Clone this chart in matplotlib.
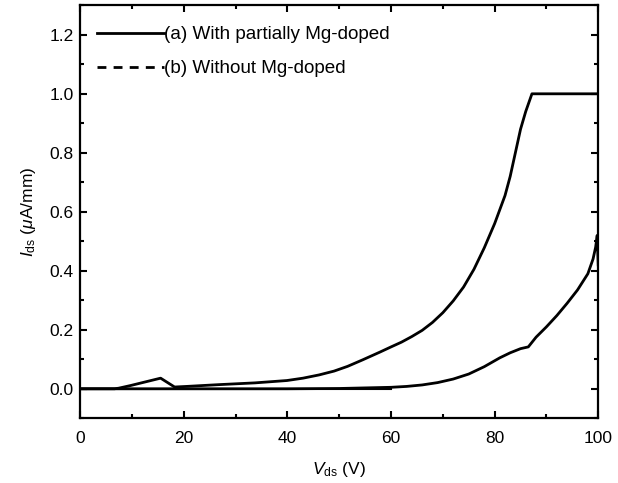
import matplotlib
matplotlib.use('Agg')
import matplotlib.pyplot as plt
from matplotlib.lines import Line2D
from matplotlib.ticker import MultipleLocator

plt.rcParams['font.family'] = ['Liberation Sans', 'DejaVu Sans']
plt.rcParams['mathtext.fontset'] = 'custom'
plt.rcParams['mathtext.rm'] = 'Liberation Sans'
plt.rcParams['mathtext.it'] = 'Liberation Sans:italic'

# (a) with partially Mg-doped
vds_a = [0, 10, 20, 30, 40, 50, 55, 60, 63, 66, 69, 72, 75, 78, 81, 83, 85, 86.5,
         88, 90, 92, 94, 96, 98, 99, 99.5, 99.8, 100]
ids_a = [0, 0, 0, 0, 0, 0.001, 0.003, 0.005, 0.008, 0.013, 0.021, 0.033, 0.050, 0.075,
         0.105, 0.122, 0.136, 0.142, 0.175, 0.210, 0.248, 0.290, 0.335, 0.390, 0.440,
         0.480, 0.520, 0.420]

# (b) without Mg-doped
vds_b = [0, 6.6, 7.4, 9.7, 15.5, 18.2, 20.5, 26.7, 33.7, 39.9, 43, 46.1, 49, 51.6,
         54.5, 57.8, 60, 62, 64, 66, 68, 70, 72, 74, 76, 78, 80, 82, 83, 84, 85, 86,
         87.2, 100]
ids_b = [0, 0, 0.002, 0.011, 0.036, 0.006, 0.008, 0.014, 0.020, 0.028, 0.036, 0.047,
         0.060, 0.076, 0.098, 0.124, 0.142, 0.158, 0.177, 0.198, 0.225, 0.258, 0.298,
         0.345, 0.405, 0.478, 0.560, 0.655, 0.720, 0.800, 0.880, 0.940, 1.0, 1.0]

fig = plt.figure(figsize=(6.18, 4.83), dpi=100)
ax = fig.add_axes([0.130, 0.134, 0.838, 0.855])

ax.plot(vds_a, ids_a, color='black', lw=2)
ax.plot(vds_b, ids_b, color='black', lw=2)
ax.axhline(0, color='black', lw=1.5, xmax=0.6)

ax.set_xlim(0, 100)
ax.set_ylim(-0.1, 1.3)
ax.xaxis.set_major_locator(MultipleLocator(20))
ax.xaxis.set_minor_locator(MultipleLocator(10))
ax.yaxis.set_minor_locator(MultipleLocator(0.1))
ax.set_yticks([0, 0.2, 0.4, 0.6, 0.8, 1.0, 1.2])
ax.set_yticklabels(['0.0', '0.2', '0.4', '0.6', '0.8', '1.0', '1.2'])
ax.tick_params(which='both', direction='in', top=True, right=True, labelsize=12.5, width=1.5)
ax.tick_params(which='major', length=5)
ax.tick_params(which='minor', length=3)
ax.tick_params(axis='y', which='major', pad=5)
ax.tick_params(axis='x', which='major', pad=9)
for s in ax.spines.values():
    s.set_linewidth(1.6)

ax.set_xlabel(r'$V_{\rm ds}$ (V)', fontsize=12.5, labelpad=10)
ax.set_ylabel(r'$I_{\rm ds}$ ($\mu$A/mm)', fontsize=12.5, labelpad=8)

handles = [Line2D([], [], color='black', lw=2),
           Line2D([], [], color='black', lw=2, linestyle=(0, (3.2, 2.6)))]
ax.legend(handles, ['(a) With partially Mg-doped', '(b) Without Mg-doped'],
          loc='upper left', bbox_to_anchor=(0.033, 0.95), frameon=False,
          fontsize=13.6, handlelength=3.5, handletextpad=0.05, labelspacing=0.9,
          borderaxespad=0, borderpad=0)

fig.savefig('out.png', dpi=100)
